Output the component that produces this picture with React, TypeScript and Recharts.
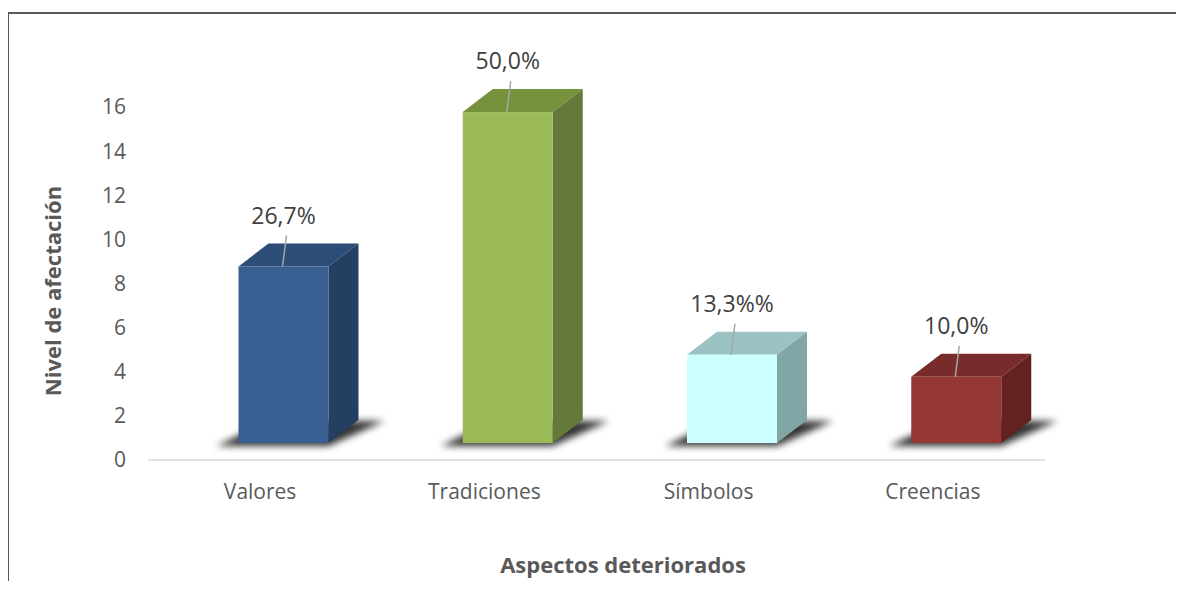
import React from 'react';
import { BarChart, Bar, XAxis, YAxis, LabelList } from 'recharts';

const categories = ['Valores', 'Tradiciones', 'Símbolos', 'Creencias'];
const values = [8, 15, 4, 3];
const percentLabels = ['26,7%', '50,0%', '13,3%%', '10,0%'];
const yTicks = [0, 2, 4, 6, 8, 10, 12, 14, 16];

const FRONT = ['#375f91', '#9bbb59', '#ccffff', '#953735'];
const TOP = ['#2b4d77', '#77923d', '#9bc3c3', '#772b2a'];
const SIDE = ['#243f61', '#65793a', '#80a6a6', '#632120'];

const data = categories.map((c, i) => ({ name: c, value: values[i], label: percentLabels[i] }));

const FONT = '"Open Sans", "Noto Sans", sans-serif';
const TEXT = '#595959';
const SHIFT_X = 23.5;
const LIFT = 17;
const DX = 30;
const DY = 23;

function Box3D(props: any) {
  const { x, y, width, height, index } = props;
  const fx = x + SHIFT_X;
  const fr = fx + width;
  const ft = y - LIFT;
  const fb = y + height - LIFT;
  const id = `sh${index}`;
  return (
    <g>
      <defs>
        <filter id={id} x="-50%" y="-100%" width="200%" height="300%">
          <feGaussianBlur stdDeviation="3.5" />
        </filter>
      </defs>
      <polygon
        points={`${fx - 22},${fb + 3} ${fr},${fb + 3} ${fr + DX + 26},${fb - DY + 1} ${fx + DX},${fb - DY + 1}`}
        fill="#000"
        fillOpacity={0.8}
        filter={`url(#${id})`}
      />
      <polygon points={`${fx},${ft} ${fr},${ft} ${fr + DX},${ft - DY} ${fx + DX},${ft - DY}`} fill={TOP[index]} />
      <polygon points={`${fr},${ft} ${fr + DX},${ft - DY} ${fr + DX},${fb - DY} ${fr},${fb}`} fill={SIDE[index]} />
      <rect x={fx} y={ft} width={width} height={fb - ft} fill={FRONT[index]} />
    </g>
  );
}

function ValueLabel(props: any) {
  const { x, y, width, value } = props;
  const cx = x + SHIFT_X + width / 2;
  const top = y - LIFT;
  return (
    <g>
      <line x1={cx + 3} y1={top - 31} x2={cx - 1} y2={top} stroke="#a6a6a6" strokeWidth={1.5} />
      <text x={cx} y={top - 43} textAnchor="middle" fontFamily={FONT} fontSize={23} fill="#404040">
        {value}
      </text>
    </g>
  );
}

export default function App() {
  return (
    <div style={{ position: 'relative', margin: -8, width: 1184, height: 589, overflow: 'hidden', background: '#fff' }}>
      <svg width={1184} height={589} style={{ position: 'absolute', left: 0, top: 0 }}>
        <line x1={8} y1={13} x2={1184} y2={13} stroke="#595959" strokeWidth={2} />
        <line x1={8} y1={12} x2={8} y2={589} stroke="#595959" strokeWidth={2} />
      </svg>
      <div style={{ position: 'absolute', left: 0, top: 0 }}>
        <BarChart width={1184} height={589} data={data} margin={{ top: 107, right: 139, bottom: 99, left: 68 }}>
          <YAxis
            type="number"
            domain={[0, 16]}
            ticks={yTicks}
            width={80}
            axisLine={false}
            tickLine={false}
            tickSize={0}
            tickMargin={22}
            tick={{ fontSize: 21, fill: TEXT, fontFamily: FONT }}
            label={{
              content: () => (
                <text
                  x={0}
                  y={0}
                  transform="translate(61,291) rotate(-90)"
                  textAnchor="middle"
                  fontFamily={FONT}
                  fontWeight="bold"
                  fontSize={22}
                  fill={TEXT}
                >
                  Nivel de afectación
                </text>
              ),
            }}
          />
          <XAxis
            dataKey="name"
            height={30}
            axisLine={{ stroke: '#d9d9d9', strokeWidth: 1.5 }}
            tickLine={false}
            tickSize={0}
            tickMargin={24}
            tick={{ fontSize: 21, fill: TEXT, fontFamily: FONT }}
            label={{
              content: () => (
                <text x={623} y={573} textAnchor="middle" fontFamily={FONT} fontWeight="bold" fontSize={22} fill={TEXT}>
                  Aspectos deteriorados
                </text>
              ),
            }}
          />
          <Bar dataKey="value" barSize={90} shape={Box3D} isAnimationActive={false}>
            <LabelList dataKey="label" content={ValueLabel} />
          </Bar>
        </BarChart>
      </div>
    </div>
  );
}
